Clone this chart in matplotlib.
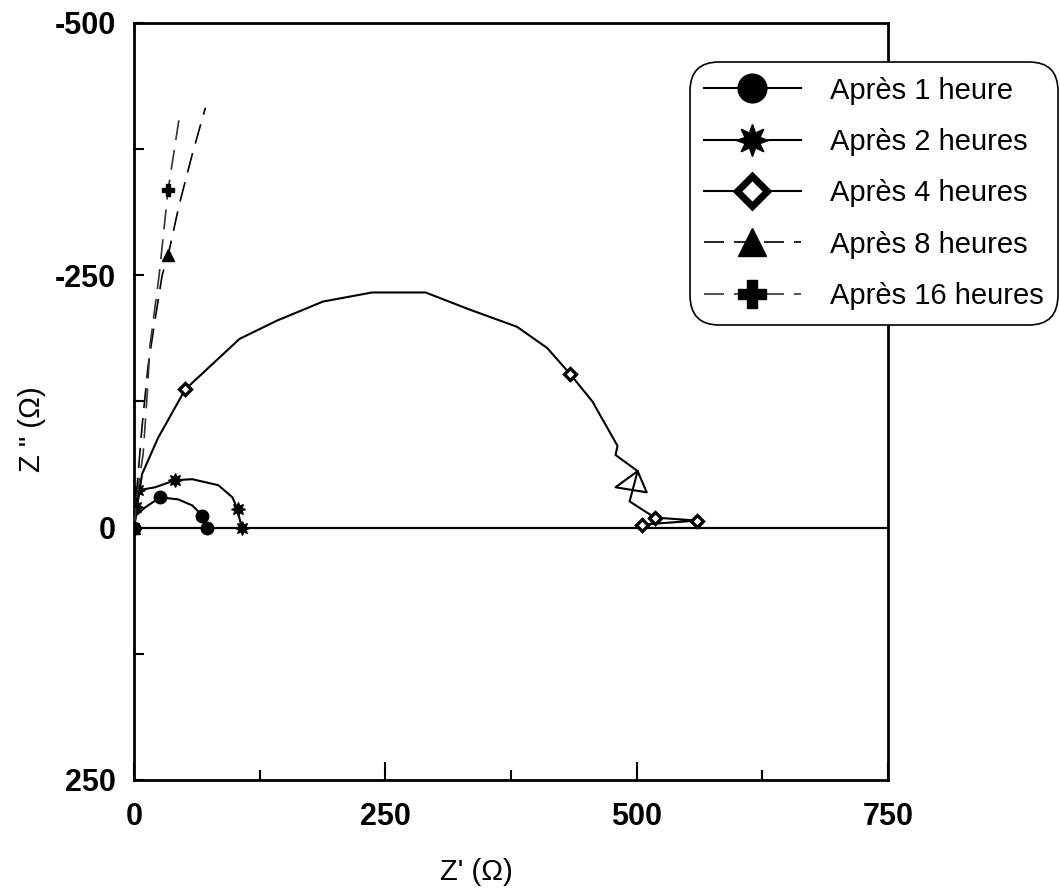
import matplotlib
matplotlib.use("Agg")
import matplotlib.pyplot as plt
from matplotlib.ticker import FixedLocator

plt.rcParams['font.family'] = ['Liberation Sans', 'DejaVu Sans']

# ---- data (Z' , Z'') in ohm ----
labels = ["Après 1 heure", "Après 2 heures", "Après 4 heures",
          "Après 8 heures", "Après 16 heures"]

x_1h = [0, 2, 11, 26, 44, 58, 68, 73]
y_1h = [0, -12, -20, -30, -28, -22, -12, 0]
mk_1h = [0, 3, 6, 7]

x_2h = [0, 2, 4, 21, 41, 58, 84, 98, 103, 107]
y_2h = [0, -20, -37, -40, -47, -48, -42, -30, -18, 0]
mk_2h = [0, 1, 2, 4, 8, 9]

x_4h = [0, 3, 8, 24, 51, 105, 142, 188, 237, 290, 334, 381, 411, 434, 456,
        481, 479, 501, 479, 510, 501, 493, 518, 560, 505]
y_4h = [0, -20, -53, -89, -137, -187, -205, -224, -233, -233, -216, -199, -178,
        -152, -125, -81, -72, -56, -40, -35, -56, -26, -10, -7, -3]
mk_4h = [0, 4, 13, 22, 23, 24]

x_8h = [0, 3, 8, 14, 20, 28, 34, 45, 58, 71]
y_8h = [0, -40, -100, -160, -200, -250, -270, -320, -370, -416]
mk_8h = [0, 6]

x_16h = [0, 4, 9, 13, 16, 25, 34, 45]
y_16h = [0, -40, -72, -130, -181, -250, -335, -406]
mk_16h = [0, 6]

xticks_major = [0, 250, 500, 750]
xticks_minor = [125, 375, 625]
yticks_major = [-500, -250, 0, 250]
yticks_minor = [-375, -125, 125]

# ---- figure ----
fig = plt.figure(figsize=(10.6, 8.9), dpi=100)
ax = fig.add_axes([0.1264, 0.1236, 0.7113, 0.8506])

ax.axhline(0, color='black', lw=1.6, zorder=1)

lw = 1.5
ax.plot(x_1h, y_1h, color='black', lw=lw, marker='o', ms=9,
        markevery=mk_1h, label=labels[0], zorder=3)
ax.plot(x_2h, y_2h, color='black', lw=lw, marker=(8, 1, 0), ms=10,
        markevery=mk_2h, label=labels[1], zorder=3)
ax.plot(x_4h, y_4h, color='black', lw=lw, marker='D', ms=6.5, mfc='white',
        mec='black', mew=2.4, markevery=mk_4h, label=labels[2], zorder=3)
ax.plot(x_8h, y_8h, color='black', lw=1.2, ls=(0, (12, 6)), marker='^', ms=9,
        markevery=mk_8h, label=labels[3], zorder=3)
ax.plot(x_16h, y_16h, color='#333333', lw=1.2, ls=(0, (12, 6)), marker='P',
        ms=9, mfc='black', mec='black', markevery=mk_16h, label=labels[4],
        zorder=3)

ax.set_xlim(0, 750)
ax.set_ylim(250, -500)

ax.xaxis.set_major_locator(FixedLocator(xticks_major))
ax.xaxis.set_minor_locator(FixedLocator(xticks_minor))
ax.yaxis.set_major_locator(FixedLocator(yticks_major))
ax.yaxis.set_minor_locator(FixedLocator(yticks_minor))
ax.set_xticklabels([str(v) for v in xticks_major])
ax.set_yticklabels([str(v) for v in yticks_major])

ax.tick_params(axis='x', which='major', direction='in', length=13, width=1.5,
               labelsize=22, pad=16)
ax.tick_params(axis='x', which='minor', direction='in', length=7, width=1.5)
ax.tick_params(axis='y', which='both', direction='in', length=7, width=1.5,
               labelsize=22, pad=13)
for lab in ax.get_xticklabels() + ax.get_yticklabels():
    lab.set_fontweight('bold')

for s in ax.spines.values():
    s.set_linewidth(2.0)

ax.set_xlabel("Z' (Ω)", fontsize=21)
ax.set_ylabel('Z " (Ω)', fontsize=21)
ax.xaxis.set_label_coords((476 - 134) / 754, (780 - 858) / 757)
ax.yaxis.set_label_coords((46 - 134) / 754, (780 - 429) / 757)

leg = ax.legend(loc='upper right', bbox_to_anchor=(1058 / 1060, 1 - 62 / 890),
                bbox_transform=fig.transFigure, fontsize=21, markerscale=2.3,
                handlelength=3.3, handletextpad=1.0, labelspacing=0.8,
                borderpad=0.5, borderaxespad=0, fancybox=True, framealpha=1,
                edgecolor='black')
leg.get_frame().set_linewidth(1.2)
leg.get_frame().set_boxstyle('round', pad=0, rounding_size=1.0)
leg.legend_handles[2].set_markeredgewidth(5)

fig.savefig("out.png", dpi=100)
